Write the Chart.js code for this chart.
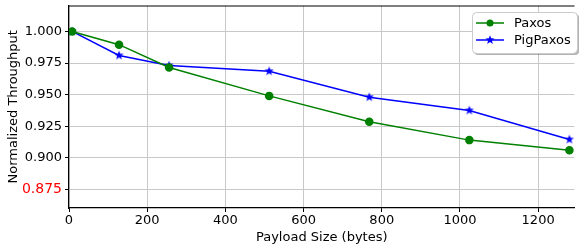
<!DOCTYPE html>
<html><head><meta charset="utf-8">
<script src="https://cdn.jsdelivr.net/npm/chart.js@4"></script>
<style>html,body{margin:0;padding:0;background:#fff}#wrap{width:580px;height:245px}</style>
</head><body><div id="wrap"><canvas id="c" width="580" height="245"></canvas></div>
<script>
const payloadSizes = [8, 128, 256, 512, 768, 1024, 1280];
const paxos = [1.000, 0.9895, 0.9715, 0.9490, 0.9285, 0.9140, 0.9060];
const pigPaxos = [1.000, 0.9810, 0.9730, 0.9685, 0.9480, 0.9375, 0.9145];
const xTicks = [0, 200, 400, 600, 800, 1000, 1200];
const yTicks = [0.875, 0.900, 0.925, 0.950, 0.975, 1.000];
const seriesNames = ['Paxos', 'PigPaxos'];

const FONT = "'DejaVu Sans', sans-serif";
Chart.defaults.font.family = FONT;
Chart.defaults.font.size = 13;
Chart.defaults.color = '#000';

function makeStar(color, r) {
  const s = Math.ceil(r * 2 + 2);
  const cv = document.createElement('canvas');
  cv.width = s; cv.height = s;
  const g = cv.getContext('2d');
  g.fillStyle = color;
  g.beginPath();
  for (let i = 0; i < 10; i++) {
    const rr = i % 2 === 0 ? r : r * 0.42;
    const a = -Math.PI / 2 + i * Math.PI / 5;
    const px = s / 2 + rr * Math.cos(a), py = s / 2 + rr * Math.sin(a);
    if (i === 0) g.moveTo(px, py); else g.lineTo(px, py);
  }
  g.closePath(); g.fill();
  return cv;
}
const starImg = makeStar('#0000ff', 4.8);

const frameAndLegend = {
  id: 'frameAndLegend',
  afterDraw(chart) {
    const ctx = chart.ctx, a = chart.chartArea;
    ctx.save();
    ctx.strokeStyle = '#000'; ctx.lineWidth = 1;
    ctx.beginPath(); ctx.moveTo(a.left, a.top + 0.5); ctx.lineTo(a.right, a.top + 0.5); ctx.stroke();
    const bx = 472, by = 12, bw = 105, bh = 41, r = 4;
    function rr(x, y) {
      ctx.beginPath();
      ctx.moveTo(x + r, y); ctx.lineTo(x + bw - r, y); ctx.quadraticCurveTo(x + bw, y, x + bw, y + r);
      ctx.lineTo(x + bw, y + bh - r); ctx.quadraticCurveTo(x + bw, y + bh, x + bw - r, y + bh);
      ctx.lineTo(x + r, y + bh); ctx.quadraticCurveTo(x, y + bh, x, y + bh - r);
      ctx.lineTo(x, y + r); ctx.quadraticCurveTo(x, y, x + r, y); ctx.closePath();
    }
    ctx.fillStyle = 'rgba(0,0,0,0.3)'; rr(bx + 2, by + 2); ctx.fill();
    ctx.fillStyle = '#fff'; rr(bx, by); ctx.fill();
    ctx.strokeStyle = '#cccccc'; ctx.lineWidth = 1; rr(bx + 0.5, by + 0.5); ctx.stroke();
    const colors = ['#008000', '#0000ff'];
    const rows = [23, 40];
    ctx.font = '13px ' + FONT; ctx.textBaseline = 'middle';
    for (let i = 0; i < 2; i++) {
      const y = rows[i];
      ctx.strokeStyle = colors[i]; ctx.lineWidth = 1.5;
      ctx.beginPath(); ctx.moveTo(476, y); ctx.lineTo(504, y); ctx.stroke();
      if (i === 0) {
        ctx.fillStyle = colors[0]; ctx.beginPath(); ctx.arc(490, y, 3.5, 0, Math.PI * 2); ctx.fill();
      } else {
        ctx.drawImage(starImg, 490 - starImg.width / 2, y - starImg.height / 2);
      }
      ctx.fillStyle = '#000';
      ctx.fillText(seriesNames[i], 514, y + 1);
    }
    ctx.restore();
  }
};

const isRed = c => !!(c && c.tick && Math.abs(c.tick.value - 0.875) < 1e-6);

new Chart(document.getElementById('c'), {
  type: 'line',
  data: {
    datasets: [
      {
        label: seriesNames[0],
        data: payloadSizes.map((x, i) => ({ x, y: paxos[i] })),
        borderColor: '#008000', backgroundColor: '#008000',
        borderWidth: 1.5, pointRadius: 3.5, pointHoverRadius: 3.5, pointStyle: 'circle', tension: 0
      },
      {
        label: seriesNames[1],
        data: payloadSizes.map((x, i) => ({ x, y: pigPaxos[i] })),
        borderColor: '#0000ff', backgroundColor: '#0000ff',
        borderWidth: 1.5, pointStyle: starImg, pointRadius: 4, tension: 0
      }
    ]
  },
  options: {
    responsive: false, animation: false, devicePixelRatio: 1,
    layout: { padding: { top: 4, right: 0, left: 0, bottom: 0 } },
    plugins: { legend: { display: false }, tooltip: { enabled: false } },
    scales: {
      x: {
        type: 'linear', min: 0, max: 1293,
        afterBuildTicks: s => { s.ticks = xTicks.map(v => ({ value: v })); },
        afterFit: s => { s.height = 37; s.paddingLeft = 0; s.paddingRight = 0; },
        grid: { color: '#c8c8c8', lineWidth: 1, tickLength: 4, tickColor: '#000', drawTicks: true },
        border: { color: '#000', width: 1.2 },
        ticks: { color: '#000', font: { family: FONT, size: 13 }, padding: 1, maxRotation: 0, autoSkip: false, callback: v => String(v) },
        title: { display: true, text: 'Payload Size (bytes)', color: '#000', font: { family: FONT, size: 13 }, padding: { top: 1, bottom: 0 } }
      },
      y: {
        min: 0.8603, max: 1.0205,
        afterBuildTicks: s => { s.ticks = yTicks.map(v => ({ value: v })); },
        afterFit: s => { s.width = 69; s.paddingTop = 0; s.paddingBottom = 0; },
        grid: { color: '#c8c8c8', lineWidth: 1, tickLength: 4, tickColor: '#000' },
        border: { color: '#000', width: 1.2 },
        ticks: {
          font: c => ({ family: FONT, size: isRed(c) ? 14 : 13 }),
          padding: 3, autoSkip: false,
          color: c => (isRed(c) ? '#ff0000' : '#000'),
          callback: v => Number(v).toFixed(3)
        },
        title: { display: true, text: 'Normalized Throughput', color: '#000', font: { family: FONT, size: 13 }, padding: { top: 6, bottom: 0 } }
      }
    }
  },
  plugins: [frameAndLegend]
});
</script></body></html>
